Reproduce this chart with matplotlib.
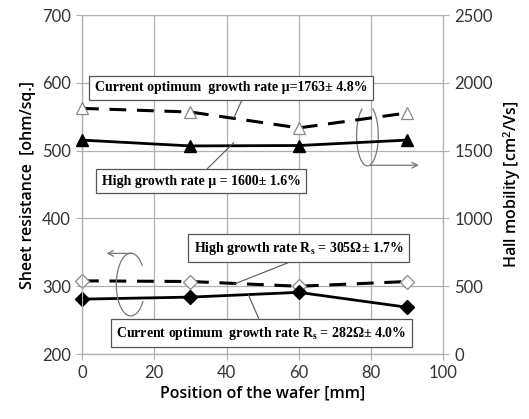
import matplotlib.pyplot as plt
from matplotlib.patches import Arc

# positions on the wafer [mm]
position = [0, 30, 60, 90]

# sheet resistance [ohm/sq.]
rs_high = [308, 307, 300, 307]
rs_current = [281, 284, 291, 269]

# Hall mobility [cm2/Vs]
mu_current = [1812, 1785, 1668, 1778]
mu_high = [1578, 1535, 1538, 1578]

label_mu_current = "Current optimum  growth rate \u03bc=1763\u00b1 4.8%"
label_mu_high = "High growth rate \u03bc = 1600\u00b1 1.6%"
label_rs_high = "High growth rate R$_s$ = 305\u03a9\u00b1 1.7%"
label_rs_current = "Current optimum  growth rate R$_s$ = 282\u03a9\u00b1 4.0%"

plt.rcParams["font.family"] = ["Lato", "DejaVu Sans"]
plt.rcParams["mathtext.fontset"] = "custom"
plt.rcParams["mathtext.rm"] = "Liberation Serif:bold"
plt.rcParams["mathtext.it"] = "Liberation Serif:bold"

fig = plt.figure(figsize=(5.29, 4.19), dpi=100)
ax = fig.add_axes([0.155, 0.155, 0.683, 0.809])
ax2 = ax.twinx()

grid_c = "#b0b0b0"
ax.set_xlim(0, 100)
ax.set_ylim(200, 700)
ax2.set_ylim(0, 2500)
ax.set_xticks(range(0, 101, 20))
ax.set_yticks(range(200, 701, 100))
ax2.set_yticks(range(0, 2501, 500))
ax.grid(True, color=grid_c, lw=0.9)
ax.set_axisbelow(True)

for a in (ax, ax2):
    for s in a.spines.values():
        s.set_color(grid_c)
ax.spines["left"].set_color("#555555")
ax.spines["bottom"].set_color("#555555")
ax.tick_params(axis="both", labelsize=12, colors="#333333", length=4, color=grid_c, pad=4)
ax2.tick_params(axis="y", labelsize=12, colors="#333333", length=4, color=grid_c, pad=4)

# sheet resistance (left axis)
ax.plot(position, rs_high, color="black", lw=2.2, ls=(0, (5.5, 3.5)), marker="D", ms=7,
        mfc="white", mec="#888888", mew=0.9, zorder=3, clip_on=False)
ax.plot(position, rs_current, color="black", lw=2, marker="D", ms=7,
        mfc="black", mec="black", zorder=4, clip_on=False)

# mobility (right axis)
ax2.plot(position, mu_current, color="black", lw=2.2, ls=(0, (5.5, 3.5)), marker="^", ms=9,
         mfc="white", mec="#888888", mew=0.9, zorder=3, clip_on=False)
ax2.plot(position, mu_high, color="black", lw=2, marker="^", ms=9,
         mfc="black", mec="black", zorder=4, clip_on=False)

lab = dict(fontsize=11.5, fontweight="semibold", family=["Open Sans", "DejaVu Sans"])
ax.set_xlabel("Position of the wafer [mm]", labelpad=3, **lab)
ax.set_ylabel("Sheet resistance  [ohm/sq.]", labelpad=4, **lab)
ax2.set_ylabel("Hall mobility [cm$^{\\mathregular{2}}$/Vs]", labelpad=6, **lab)

box = dict(boxstyle="square,pad=0.4", fc="white", ec="#555555", lw=0.9)
tkw = dict(fontsize=10, fontweight="bold", family=["Liberation Serif", "DejaVu Serif"],
           bbox=box, zorder=6)
lkw = dict(arrowstyle="-", color="#555555", lw=0.8, shrinkA=0, shrinkB=0)

ax2.annotate(label_mu_current, xy=(42, 1740), xytext=(3.5, 1965), ha="left", va="center",
             arrowprops=dict(lkw, relpos=(0.55, 0)), **tkw)
ax2.annotate(label_mu_high, xy=(42, 1560), xytext=(5.5, 1275), ha="left", va="center",
             arrowprops=dict(lkw, relpos=(0.5, 1)), **tkw)
ax.annotate(label_rs_high, xy=(42, 303), xytext=(31, 356), ha="left", va="center",
            arrowprops=dict(lkw, relpos=(0.52, 0)), **tkw)
ax.annotate(label_rs_current, xy=(46, 288), xytext=(9.5, 231), ha="left", va="center",
            arrowprops=dict(lkw, relpos=(0.5, 1)), **tkw)

# curved arrows pointing to the relevant axis
ax.add_patch(Arc((0.79, 0.645), 0.06, 0.18, transform=ax.transAxes, theta1=100, theta2=440,
                 color="#777777", lw=0.9, zorder=5))
ax.annotate("", xy=(0.94, 0.557), xytext=(0.79, 0.557), xycoords="axes fraction",
            arrowprops=dict(arrowstyle="->", color="#777777", lw=0.9))
ax.add_patch(Arc((0.135, 0.205), 0.08, 0.185, transform=ax.transAxes, theta1=60, theta2=305,
                 color="#777777", lw=0.9, zorder=5))
ax.annotate("", xy=(0.06, 0.297), xytext=(0.145, 0.297), xycoords="axes fraction",
            arrowprops=dict(arrowstyle="->", color="#777777", lw=0.9))

fig.savefig("out.png", dpi=100)
